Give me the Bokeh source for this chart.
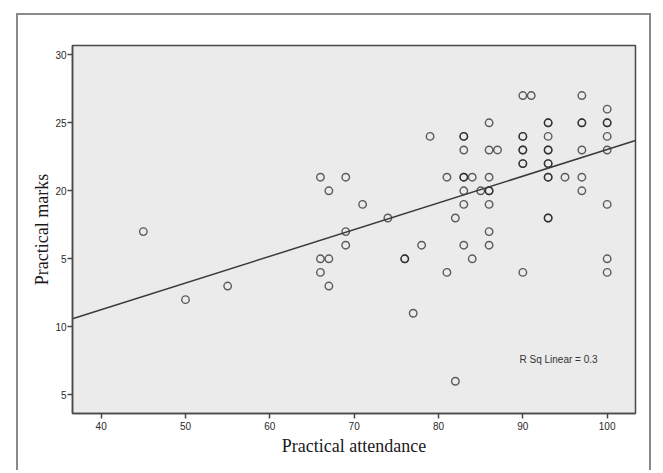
from bokeh.plotting import figure
from bokeh.models import Range1d, FixedTicker, Label, ColumnDataSource
from bokeh.embed import file_html
from bokeh.resources import INLINE

# ---- data ----
attendance = [45, 50, 55,
              66, 66, 66,
              67, 67, 67,
              69, 69, 69,
              71, 74, 76, 76, 77, 78, 79,
              81, 81, 82, 82,
              83, 83, 83, 83, 83, 83, 83, 83,
              84, 84, 85,
              86, 86, 86, 86, 86, 86, 86, 86,
              87,
              90, 90, 90, 90, 90, 90, 90, 90,
              91,
              93, 93, 93, 93, 93, 93, 93, 93, 93, 93, 93,
              95,
              97, 97, 97, 97, 97, 97,
              100, 100, 100, 100, 100, 100, 100, 100]
marks = [17, 12, 13,
         21, 15, 14,
         20, 15, 13,
         21, 17, 16,
         19, 18, 15, 15, 11, 16, 24,
         21, 14, 18, 6,
         24, 24, 23, 21, 21, 20, 19, 16,
         21, 15, 20,
         25, 23, 21, 20, 20, 19, 17, 16,
         23,
         27, 24, 24, 23, 23, 22, 22, 14,
         27,
         25, 25, 24, 23, 23, 22, 22, 21, 21, 18, 18,
         21,
         27, 25, 25, 23, 21, 20,
         26, 25, 25, 24, 23, 19, 15, 14]

fit_intercept = 3.40
fit_slope = 0.1964
r_sq_text = "R Sq Linear = 0.3"

x_ticks = [40, 50, 60, 70, 80, 90, 100]
y_ticks = [5, 10, 15, 20, 25, 30]
y_tick_labels = ["5", "10", "5", "20", "25", "30"]

X_MIN, X_MAX = 36.6, 103.36
Y_MIN, Y_MAX = 3.63, 30.68

p = figure(width=635, height=457, output_backend="svg", toolbar_location=None,
           x_range=Range1d(X_MIN, X_MAX), y_range=Range1d(Y_MIN, Y_MAX),
           min_border_left=54, min_border_right=18, min_border_top=30,
           min_border_bottom=59)
p.margin = (13, 0, 0, 16)
p.styles = {"border-left": "2px solid #8a8a8a", "border-top": "2px solid #8a8a8a",
            "border-right": "2px solid #8a8a8a"}

p.background_fill_color = "#ebebeb"
p.border_fill_color = "white"
p.outline_line_color = "#4a4a4a"
p.outline_line_width = 1.5
p.xgrid.visible = False
p.ygrid.visible = False

for ax in (p.xaxis[0], p.yaxis[0]):
    ax.axis_line_color = "#4a4a4a"
    ax.axis_line_width = 1.5
    ax.major_tick_line_color = "#4a4a4a"
    ax.major_tick_line_width = 1.5
    ax.major_tick_out = 5
    ax.major_tick_in = 0
    ax.minor_tick_line_color = None
    ax.major_label_text_font = "Liberation Sans"
    ax.major_label_text_font_size = "10px"
    ax.major_label_text_color = "#2a2a2a"
    ax.axis_label_text_font = "Liberation Serif"
    ax.axis_label_text_font_size = "18px"
    ax.axis_label_text_font_style = "normal"
    ax.axis_label_text_color = "#1a1a1a"

p.xaxis.ticker = FixedTicker(ticks=x_ticks)
p.yaxis.ticker = FixedTicker(ticks=y_ticks)
p.yaxis.major_label_overrides = {t: s for t, s in zip(y_ticks, y_tick_labels)}
p.xaxis.axis_label = "Practical attendance"
p.yaxis.axis_label = "Practical marks"
p.xaxis.major_label_standoff = 3
p.yaxis.major_label_standoff = 1
p.xaxis.axis_label_standoff = 3
p.yaxis.axis_label_standoff = 0

src = ColumnDataSource(dict(x=attendance, y=marks))
p.scatter("x", "y", source=src, marker="circle", size=7.5, fill_color=None,
          line_color="#1e1e1e", line_alpha=0.7, line_width=1.4)

fx = [X_MIN, X_MAX]
fy = [fit_intercept + fit_slope * v for v in fx]
p.line(fx, fy, line_color="#3a3a3a", line_width=1.5)

p.add_layout(Label(x=89.6, y=7.6, text=r_sq_text, text_font="Liberation Sans",
                   text_font_size="10px", text_color="#333333",
                   text_baseline="middle", text_align="left"))

open("out.html", "w").write(file_html(p, INLINE))
